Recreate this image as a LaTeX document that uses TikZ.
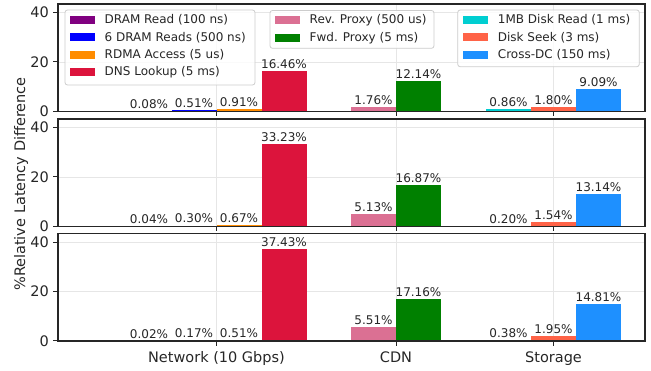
\documentclass[tikz,border=0pt]{standalone}
\usepackage{fontspec}
\setmainfont{DejaVu Sans}
\definecolor{cDRAM}{HTML}{800080}
\definecolor{cSix}{HTML}{0000FF}
\definecolor{cRDMA}{HTML}{FF8C00}
\definecolor{cDNS}{HTML}{DC143C}
\definecolor{cRev}{HTML}{DB7093}
\definecolor{cFwd}{HTML}{008000}
\definecolor{cMB}{HTML}{00CED1}
\definecolor{cSeek}{HTML}{FF6347}
\definecolor{cDC}{HTML}{1E90FF}
\definecolor{cGrid}{HTML}{E6E6E6}
\definecolor{cFrame}{HTML}{262626}
\definecolor{cLeg}{HTML}{CCCCCC}
\begin{document}
\begin{tikzpicture}[x=1pt,y=-1pt,
  gridline/.style={draw=cGrid,line width=0.9pt},
  frame/.style={draw=cFrame,line width=1.2pt},
  tickmark/.style={draw=cFrame,line width=1pt},
  barlbl/.style={anchor=base,inner sep=0pt,text=cFrame,font=\fontsize{12}{14}\selectfont},
  ticklbl/.style={inner sep=0pt,text=cFrame,font=\fontsize{14.5}{17}\selectfont},
  legbox/.style={draw=cLeg,fill=white,fill opacity=0.8,draw opacity=1,rounded corners=2.5pt,line width=0.8pt},
  legtxt/.style={anchor=west,inner sep=0pt,text=cFrame,font=\fontsize{12}{14}\selectfont},
]
\useasboundingbox (0,0) rectangle (651,371);
% grids
\foreach \p/\yz in {1/111.3,2/226.3,3/341}{
  \foreach \v in {0,20,40}
    \draw[gridline] (58,{\yz-\v*2.4667}) -- (645,{\yz-\v*2.4667});
  \foreach \xt in {216.5,396,553.5}
    \draw[gridline] (\xt,{\yz-107.3}) -- (\xt,\yz);
}
% bars
\foreach \p/\yz/\a/\b/\c/\d/\e/\f/\g/\h/\k in {
  1/111.3/0.08/0.51/0.91/16.46/1.76/12.14/0.86/1.80/9.09,
  2/226.3/0.04/0.30/0.67/33.23/5.13/16.87/0.20/1.54/13.14,
  3/341/0.02/0.17/0.51/37.43/5.51/17.16/0.38/1.95/14.81}{
  \foreach \xl/\val/\col [count=\i] in {126.5/\a/cDRAM,171.5/\b/cSix,216.5/\c/cRDMA,261.5/\d/cDNS,351/\e/cRev,396/\f/cFwd,486/\g/cMB,531/\h/cSeek,576/\k/cDC}{
    \fill[\col] (\xl,\yz) rectangle ({\xl+45},{\yz-\val*2.4667});
    \node[barlbl] (v\p-\i) at ({\xl+22.5},{\yz-\val*2.4667-2.6}) {\val\%};
  }
}
% frames and ticks
\foreach \p/\yz in {1/111.3,2/226.3,3/341}{
  \draw[frame] (58,{\yz-107.3}) rectangle (645,\yz);
  \foreach \v in {0,20,40}{
    \draw[tickmark] (58,{\yz-\v*2.4667}) -- (52.5,{\yz-\v*2.4667});
    \node[ticklbl,anchor=east] (yt\p-\v) at (49,{\yz-\v*2.4667}) {\v};
  }
  \foreach \xt in {216.5,396,553.5}
    \draw[tickmark] (\xt,\yz) -- (\xt,{\yz+5});
}
\node[ticklbl,anchor=base] (xnet) at (216.5,363) {Network (10 Gbps)};
\node[ticklbl,anchor=base] (xcdn) at (396,363) {CDN};
\node[ticklbl,anchor=base] (xsto) at (553.5,363) {Storage};
\node[ticklbl,rotate=90] (ylab) at (21,184) {\%Relative Latency Difference};
% legends
\draw[legbox] (65,10) rectangle (255,85);
\foreach \t/\col/\ry [count=\i] in {DRAM Read (100 ns)/cDRAM/20,6 DRAM Reads (500 ns)/cSix/37.5,RDMA Access (5 us)/cRDMA/55,DNS Lookup (5 ms)/cDNS/72.3}{
  \fill[\col] (70,{\ry-4}) rectangle (95,{\ry+4});
  \node[legtxt] (la\i) at (104.5,\ry) {\t};
}
\draw[legbox] (270,10.5) rectangle (434,48.3);
\foreach \t/\col/\ry [count=\i] in {Rev. Proxy (500 us)/cRev/20.5,Fwd. Proxy (5 ms)/cFwd/37.8}{
  \fill[\col] (275,{\ry-4}) rectangle (300,{\ry+4});
  \node[legtxt] (lb\i) at (309.5,\ry) {\t};
}
\draw[legbox] (457.7,10) rectangle (639.3,66.7);
\foreach \t/\col/\ry [count=\i] in {1MB Disk Read (1 ms)/cMB/20,Disk Seek (3 ms)/cSeek/37.5,Cross-DC (150 ms)/cDC/55}{
  \fill[\col] (463.3,{\ry-4}) rectangle (488.3,{\ry+4});
  \node[legtxt] (lc\i) at (497.7,\ry) {\t};
}
\end{tikzpicture}
\end{document}
